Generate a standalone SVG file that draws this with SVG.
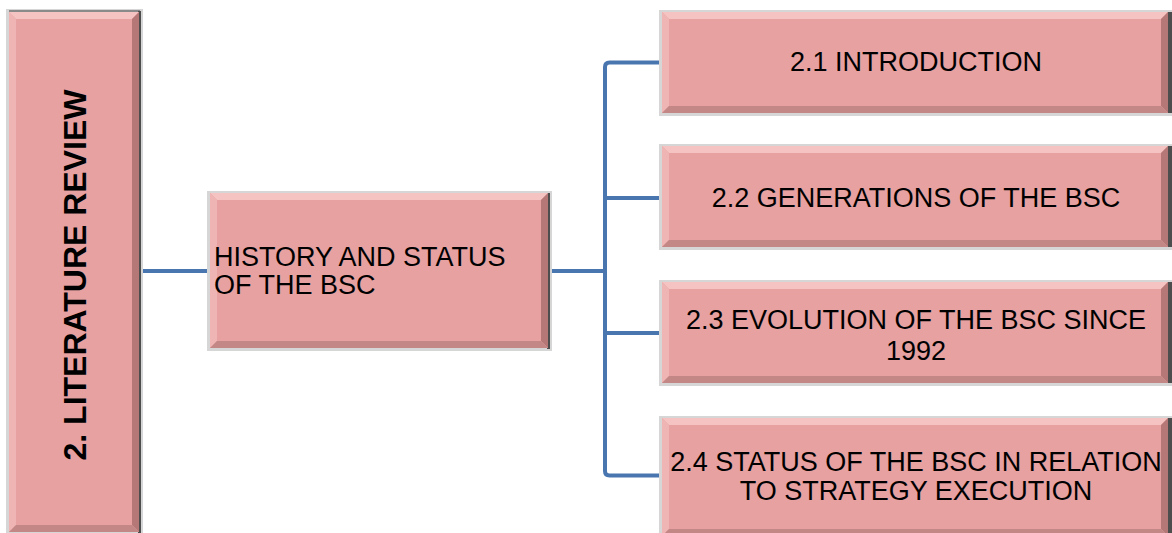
<svg xmlns="http://www.w3.org/2000/svg" width="1172" height="533" viewBox="0 0 1172 533">
  <style>
    .frame { fill: #d6d6d6; }
    .edge { fill: #4d4d4d; }
    .topline { fill: #8a8a8a; }
    .face { fill: #e6a1a0; }
    .bt { fill: #f4c3c2; }
    .bl { fill: #efb5b4; }
    .br { fill: #b67877; }
    .bb { fill: #c38786; }
    .lbl { font-family: "Liberation Sans", Arial, sans-serif; font-size: 27px; fill: #000; }
    .mid { text-anchor: middle; }
    .title { font-family: "Liberation Sans", Arial, sans-serif; font-size: 32px; font-weight: bold; fill: #000; text-anchor: middle; }
    .conn { fill: none; stroke: #4a76b0; stroke-width: 4; }
  </style>

  <!-- connectors -->
  <g id="connectors" class="conn">
    <path d="M140 271 H210"/>
    <path d="M549 271 H605"/>
    <path d="M662 62.5 H609.5 Q605 62.5 605 67 V471 Q605 475.5 609.5 475.5 H662"/>
    <path d="M605 198 H662"/>
    <path d="M605 333 H662"/>
  </g>

  <!-- 2. LITERATURE REVIEW -->
  <g id="node-literature-review">
    <rect class="frame" x="6" y="9" width="137" height="526"/>
    <rect class="topline" x="9" y="10" width="131" height="2"/>
    <rect class="edge" x="138" y="11" width="3" height="522"/>
    <rect class="face" x="9" y="12" width="130" height="520"/>
    <polygon class="bt" points="9,12 139,12 132,19 16,19"/>
    <polygon class="bl" points="9,12 16,19 16,525 9,532"/>
    <polygon class="br" points="139,12 139,532 132,525 132,19"/>
    <polygon class="bb" points="9,532 139,532 132,525 16,525"/>
    <text class="title" transform="translate(86 275) rotate(-90)">2. LITERATURE REVIEW</text>
  </g>

  <!-- HISTORY AND STATUS OF THE BSC -->
  <g id="node-history">
    <rect class="frame" x="207" y="191" width="345" height="160"/>
    <rect class="edge" x="547" y="193" width="3" height="156"/>
    <rect class="face" x="210" y="193" width="338" height="155"/>
    <polygon class="bt" points="210,193 548,193 541,200 217,200"/>
    <polygon class="bl" points="210,193 217,200 217,341 210,348"/>
    <polygon class="br" points="548,193 548,348 541,341 541,200"/>
    <polygon class="bb" points="210,348 548,348 541,341 217,341"/>
    <text class="lbl" x="214" y="266">HISTORY AND STATUS</text>
    <text class="lbl" x="214" y="294">OF THE BSC</text>
  </g>

  <!-- 2.1 INTRODUCTION -->
  <g id="node-2-1">
    <rect class="frame" x="659" y="10" width="515" height="106"/>
    <rect class="edge" x="1168" y="12" width="4" height="101"/>
    <rect class="face" x="662" y="12" width="506" height="101"/>
    <polygon class="bt" points="662,12 1168,12 1161,19 669,19"/>
    <polygon class="bl" points="662,12 669,19 669,106 662,113"/>
    <polygon class="br" points="1168,12 1168,113 1161,106 1161,19"/>
    <polygon class="bb" points="662,113 1168,113 1161,106 669,106"/>
    <text class="lbl mid" x="916" y="71">2.1 INTRODUCTION</text>
  </g>

  <!-- 2.2 GENERATIONS OF THE BSC -->
  <g id="node-2-2">
    <rect class="frame" x="659" y="144" width="515" height="106"/>
    <rect class="edge" x="1168" y="146" width="4" height="101"/>
    <rect class="face" x="662" y="146" width="506" height="101"/>
    <polygon class="bt" points="662,146 1168,146 1161,153 669,153"/>
    <polygon class="bl" points="662,146 669,153 669,240 662,247"/>
    <polygon class="br" points="1168,146 1168,247 1161,240 1161,153"/>
    <polygon class="bb" points="662,247 1168,247 1161,240 669,240"/>
    <text class="lbl mid" x="916" y="207">2.2 GENERATIONS OF THE BSC</text>
  </g>

  <!-- 2.3 EVOLUTION OF THE BSC SINCE 1992 -->
  <g id="node-2-3">
    <rect class="frame" x="659" y="280" width="515" height="106"/>
    <rect class="edge" x="1168" y="282" width="4" height="101"/>
    <rect class="face" x="662" y="282" width="506" height="101"/>
    <polygon class="bt" points="662,282 1168,282 1161,289 669,289"/>
    <polygon class="bl" points="662,282 669,289 669,376 662,383"/>
    <polygon class="br" points="1168,282 1168,383 1161,376 1161,289"/>
    <polygon class="bb" points="662,383 1168,383 1161,376 669,376"/>
    <text class="lbl mid" x="916" y="329">2.3 EVOLUTION OF THE BSC SINCE</text>
    <text class="lbl mid" x="916" y="360">1992</text>
  </g>

  <!-- 2.4 STATUS OF THE BSC IN RELATION TO STRATEGY EXECUTION -->
  <g id="node-2-4">
    <rect class="frame" x="659" y="416" width="515" height="122"/>
    <rect class="edge" x="1168" y="418" width="4" height="118"/>
    <rect class="face" x="662" y="418" width="506" height="118"/>
    <polygon class="bt" points="662,418 1168,418 1161,425 669,425"/>
    <polygon class="bl" points="662,418 669,425 669,529 662,536"/>
    <polygon class="br" points="1168,418 1168,536 1161,529 1161,425"/>
    <polygon class="bb" points="662,536 1168,536 1161,529 669,529"/>
    <text class="lbl mid" x="916" y="471">2.4 STATUS OF THE BSC IN RELATION</text>
    <text class="lbl mid" x="916" y="500">TO STRATEGY EXECUTION</text>
  </g>
</svg>
